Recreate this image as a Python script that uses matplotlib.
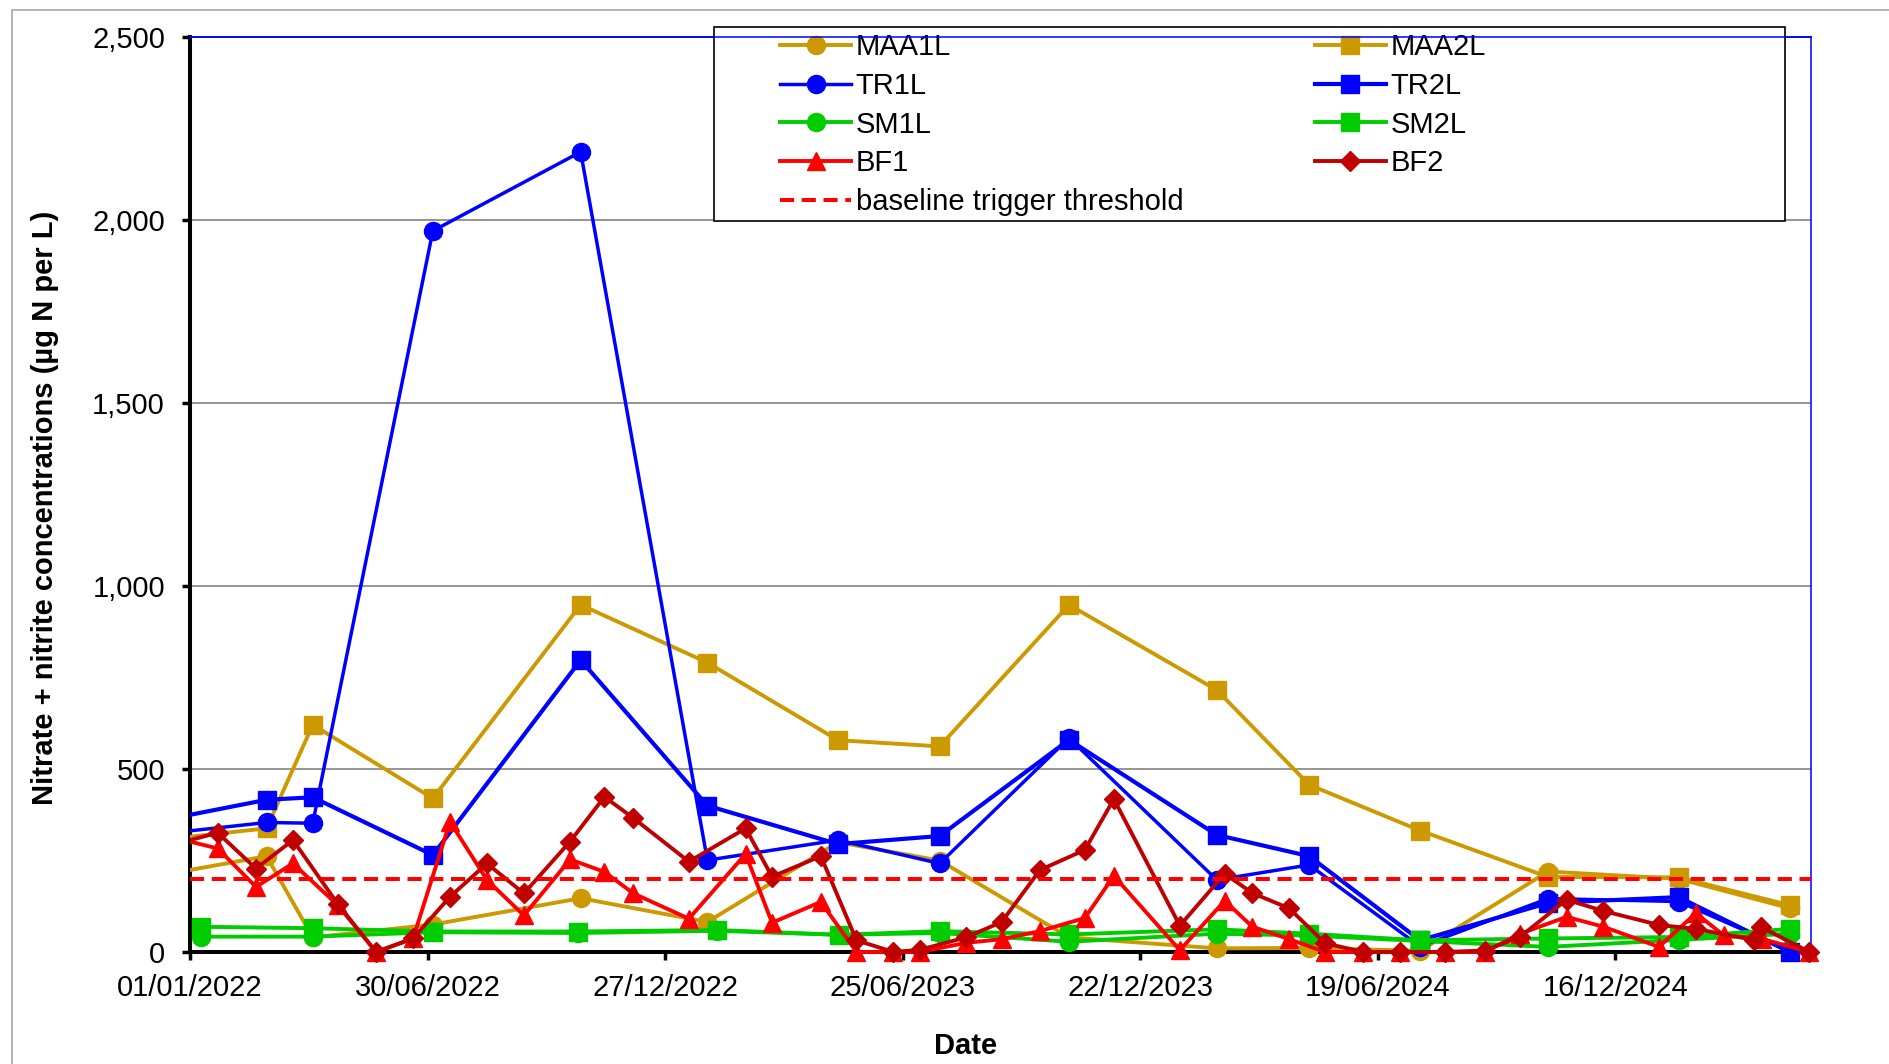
import matplotlib
matplotlib.use('Agg')
import matplotlib.pyplot as plt
import matplotlib.dates as mdates
from matplotlib.patches import Rectangle
from matplotlib.ticker import FuncFormatter
import pandas as pd

plt.rcParams['font.family'] = ['Liberation Sans', 'DejaVu Sans']

# sampling dates for the lagoon sites (first date lies before the axis start)
l_dates = ['2021-12-01', '2022-02-28', '2022-04-04', '2022-07-04', '2022-10-24',
           '2023-01-28', '2023-05-07', '2023-07-23', '2023-10-29', '2024-02-18',
           '2024-04-28', '2024-07-21', '2024-10-26', '2025-02-02', '2025-04-27']
maa1l = [204, 262, 40, 75, 147, 82, 300, 250, 40, 10, 11, 3, 220, 200, 120]
maa2l = [303, 338, 621, 420, 949, 791, 579, 562, 949, 716, 457, 332, 205, 204, 128]
tr1l = [319, 354, 352, 1971, 2187, 251, 306, 242, 585, 197, 238, 15, 146, 138, 5]
tr2l = [353, 416, 423, 265, 798, 400, 295, 317, 580, 320, 262, 32, 134, 150, 0]

sm_dates = ['2022-01-09', '2022-04-04', '2022-07-04', '2022-10-22', '2023-02-04',
            '2023-05-08', '2023-07-23', '2023-10-29', '2024-02-18', '2024-04-28',
            '2024-07-21', '2024-10-26', '2025-02-02', '2025-04-27']
sm1l = [42, 42, 54, 52, 58, 47, 52, 28, 50, 45, 30, 14, 33, 50]
sm2l = [69, 65, 56, 56, 60, 47, 57, 48, 62, 50, 32, 37, 41, 63]

bf_common = ['2021-12-24', '2022-01-22', '2022-02-20', '2022-03-20', '2022-04-23',
             '2022-05-22', '2022-06-19', '2022-07-17', '2022-08-14', '2022-09-11',
             '2022-10-16', '2022-11-11', '2022-12-03', '2023-01-14', '2023-02-26',
             '2023-03-18', '2023-04-24', '2023-05-21', '2023-06-18', '2023-07-08',
             '2023-08-12', '2023-09-08', '2023-10-07', '2023-11-10', '2023-12-02',
             '2024-01-21', '2024-02-24', '2024-03-16', '2024-04-13', '2024-05-10',
             '2024-06-08', '2024-07-06', '2024-08-09', '2024-09-08', '2024-10-05',
             '2024-11-09', '2024-12-07', '2025-01-18', '2025-02-15']
bf1_dates = bf_common + ['2025-03-08', '2025-04-06', '2025-05-12']
bf2_dates = bf_common + ['2025-03-31', '2025-04-05', '2025-05-12']
bf1 = [309, 283, 178, 242, 128, 0, 37, 356, 197, 100, 253, 219, 160, 91, 268, 80,
       137, 0, 0, 0, 25, 35, 57, 93, 208, 5, 140, 69, 35, 0, 0, 0, 0, 0, 50, 96,
       69, 14, 106, 46, 36, 0]
bf2 = [298, 326, 228, 306, 131, 0, 37, 151, 242, 160, 302, 424, 366, 247, 338, 206,
       262, 32, 0, 6, 40, 82, 224, 279, 418, 72, 214, 161, 119, 24, 0, 0, 0, 4, 42,
       143, 112, 74, 63, 33, 69, 0]

threshold = 200
tick_dates = ['2022-01-01', '2022-06-30', '2022-12-27', '2023-06-25',
              '2023-12-22', '2024-06-19', '2024-12-16']
x_start = '2022-01-01'
x_end = '2025-05-13'

FS = 21
W, H = 1890, 1064

fig = plt.figure(figsize=(W / 100, H / 100), dpi=100)
ax = fig.add_axes([190 / W, (H - 952) / H, (1810.7 - 190) / W, (952 - 37.4) / H])

# clip area: cut at the left edge, let markers hang over bottom / right
clip = Rectangle((0, -0.05), 1.02, 1.1, transform=ax.transAxes, visible=False)
ax.add_patch(clip)

series = [
    ('MAA1L', l_dates, maa1l, '#CC9900', 'o', 13, 2.8),
    ('MAA2L', l_dates, maa2l, '#CC9900', 's', 13.5, 2.8),
    ('TR1L', l_dates, tr1l, '#0000FF', 'o', 13, 2.5),
    ('TR2L', l_dates, tr2l, '#0000FF', 's', 13.5, 3.0),
    ('SM1L', sm_dates, sm1l, '#00CC00', 'o', 13, 2.8),
    ('SM2L', sm_dates, sm2l, '#00CC00', 's', 13.5, 2.8),
    ('BF1', bf1_dates, bf1, '#FF0000', '^', 13, 2.8),
    ('BF2', bf2_dates, bf2, '#C00000', 'D', 10, 2.8),
]

handles = {}
for name, d, v, c, m, ms, lw in series:
    ln, = ax.plot(pd.to_datetime(d), v, color=c, marker=m, ms=ms, lw=lw,
                  markeredgecolor=c, label=name, zorder=3)
    ln.set_clip_path(clip)
    handles[name] = ln

thr = ax.axhline(threshold, color='#FF0000', lw=2.9, ls=(0, (3.5, 1.9)),
                 zorder=4, label='baseline trigger threshold')

ax.set_xlim(pd.Timestamp(x_start), pd.Timestamp(x_end))
ax.set_ylim(0, 2500)
ax.set_xticks(pd.to_datetime(tick_dates))
ax.xaxis.set_major_formatter(mdates.DateFormatter('%d/%m/%Y'))
ax.set_yticks(range(0, 2501, 500))
ax.yaxis.set_major_formatter(FuncFormatter(lambda v, p: '{:,.0f}'.format(v)))

ax.yaxis.grid(True, color='#8c8c8c', lw=1.3)
ax.set_axisbelow(True)
ax.tick_params(axis='both', direction='out', length=6, width=2.5, labelsize=FS)
ax.tick_params(axis='y', pad=12)
ax.tick_params(axis='x', pad=10)

for s in ['left', 'bottom']:
    ax.spines[s].set_linewidth(2.9)
    ax.spines[s].set_color('black')
for s in ['top', 'right']:
    ax.spines[s].set_linewidth(1.1)
    ax.spines[s].set_color('#0000FF')

# legend box drawn by hand (wide, reaches above the plot area)
box = Rectangle((713.6 / W, 1 - 220.6 / H), (1785 - 713.6) / W, (220.6 - 26.5) / H,
                transform=fig.transFigure, facecolor='white', edgecolor='black',
                lw=1.2, zorder=5, clip_on=False)
ax.add_patch(box)

order = ['MAA1L', 'TR1L', 'SM1L', 'BF1', None, 'MAA2L', 'TR2L', 'SM2L', 'BF2']
hl = [handles[k] if k else thr for k in order]
leg = ax.legend(hl, [h.get_label() for h in hl], ncol=2, loc='upper left',
                bbox_to_anchor=(780 / W, 1 - 33 / H), bbox_transform=fig.transFigure,
                frameon=False, fontsize=FS, borderpad=0, borderaxespad=0,
                handlelength=2.45, handletextpad=0.15, columnspacing=4.5,
                labelspacing=0.37)
leg.set_zorder(6)

# blue top border shows through the legend box
ax.plot([0, 1], [1, 1], transform=ax.transAxes, color='#0000FF', lw=1.1,
        zorder=7, clip_on=False)

fig.text(44.6 / W, 1 - 507.5 / H, 'Nitrate + nitrite concentrations (µg N per L)',
         rotation=90, ha='center', va='center', fontsize=FS, fontweight='bold')
fig.text(965.5 / W, 1 - 1046 / H, 'Date', ha='center', va='center',
         fontsize=FS, fontweight='bold')

# chart area border
fig.patches.append(Rectangle((12 / W, -0.05), 1.1, 1.05 - 9.6 / H,
                             transform=fig.transFigure, fill=False,
                             edgecolor='#a6a6a6', lw=1.2))

fig.savefig('out.png', dpi=100)
